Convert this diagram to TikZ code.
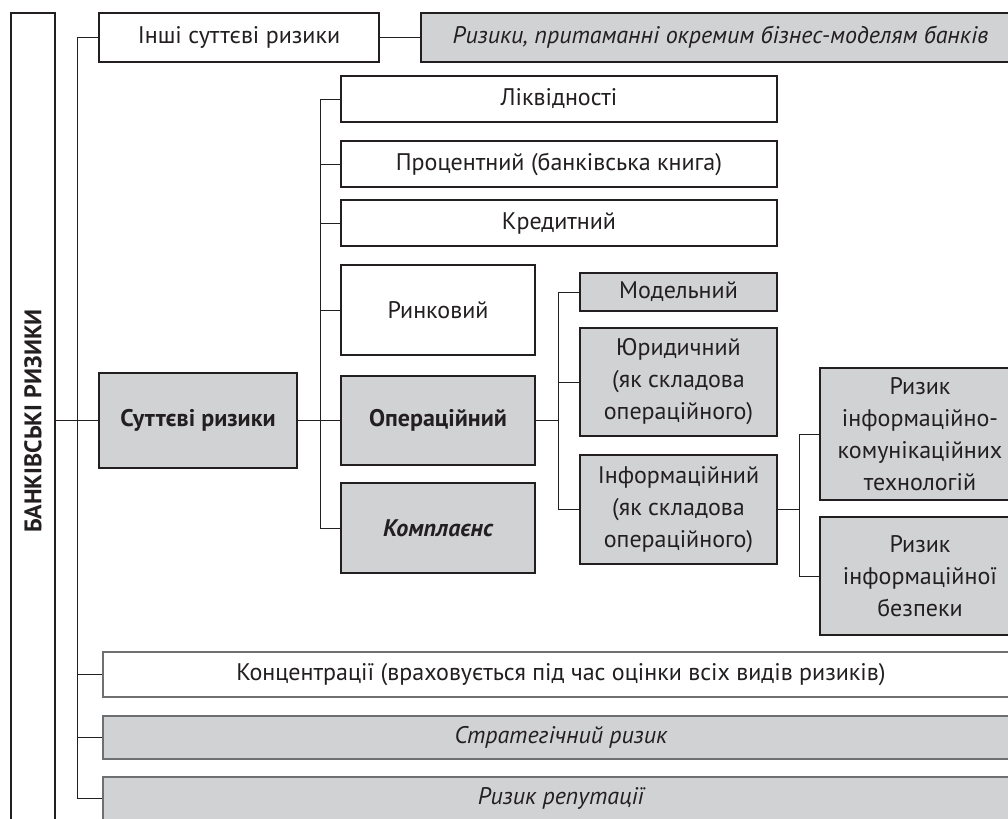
\documentclass[tikz,border=0pt]{standalone}
\usepackage{fontspec}
\setmainfont{PT Sans}
\usepackage{tikz}
\usetikzlibrary{positioning, calc}
\definecolor{riskgray}{RGB}{209,210,212}
\definecolor{inkgray}{RGB}{35,31,32}
\definecolor{edgegray}{RGB}{110,111,113}
\tikzstyle{block} = [rectangle, draw=inkgray, line width=1pt, fill=white, align=center, inner sep=1mm, text=inkgray, font=\fontsize{12}{16}\selectfont]
\tikzstyle{gblock} = [block, fill=riskgray]
\tikzstyle{band} = [block, draw=edgegray, minimum width=458pt]
\tikzstyle{link} = [line width=0.5pt, draw=inkgray]

\begin{document}
\begin{tikzpicture}[x=0.5pt, y=-0.5pt]
  \useasboundingbox (0,0) rectangle (1008,819);
  \clip (0,0) rectangle (1008,819);

  \node[block, minimum width=22pt, minimum height=408pt] (bank) at (33,421) {\rotatebox{90}{\bfseries БАНКІВСЬКІ РИЗИКИ}};
  \node[block, minimum width=140pt, minimum height=24.5pt] (other) at (239,37.5) {Інші суттєві ризики};
  \node[gblock, minimum width=299.5pt, minimum height=24.5pt] (bizmod) at (720.5,37.5) {\itshape Ризики, притаманні окремим бізнес-моделям банків};
  \node[gblock, minimum width=99pt, minimum height=47.5pt] (sut) at (198,420.5) {\bfseries Суттєві ризики};

  % суттєві ризики
  \node[block, minimum width=218pt, minimum height=23pt] (liq) at (559,99) {Ліквідності};
  \node[block, minimum width=218pt, minimum height=23pt] (int) at (559,164) {Процентний (банківська книга)};
  \node[block, minimum width=218pt, minimum height=23pt] (cred) at (559,223) {Кредитний};
  \node[block, minimum width=97pt, minimum height=45pt] (mkt) at (438,310) {Ринковий};
  \node[gblock, minimum width=97pt, minimum height=44.5pt] (oper) at (438,420.5) {\bfseries Операційний};
  \node[gblock, minimum width=97pt, minimum height=45pt] (compl) at (438,528) {\bfseries\itshape Комплаєнс};

  % операційний
  \node[gblock, minimum width=98.5pt, minimum height=19pt] (model) at (678.5,292) {Модельний};
  \node[gblock, minimum width=98.5pt, minimum height=54pt] (legal) at (678.5,382) {Юридичний\\(як складова\\операційного)};
  \node[gblock, minimum width=98.5pt, minimum height=54.5pt] (info) at (678.5,509.5) {Інформаційний\\(як складова\\операційного)};
  \node[gblock, minimum width=100pt, minimum height=66pt] (ict) at (920,434) {Ризик\\інформаційно-\\комунікаційних\\технологій};
  \node[gblock, minimum width=100pt, minimum height=59pt] (sec) at (920,576) {Ризик\\інформаційної\\безпеки};

  % нижні смуги
  \node[band, minimum height=22.5pt] (conc) at (561,674.5) {Концентрації (враховується під час оцінки всіх видів ризиків)};
  \node[band, fill=riskgray, minimum height=21.5pt] (strat) at (561,737.5) {\itshape Стратегічний ризик};
  \node[band, fill=riskgray, minimum height=21.5pt] (rep) at (561,798.5) {\itshape Ризик репутації};

  \coordinate (ta) at (77,0);
  \coordinate (tb) at (320,0);
  \coordinate (tc) at (558,0);
  \coordinate (td) at (799,0);

  \draw[link] (sut.west -| bank.east) -- (sut.west);
  \draw[link] (other.west) -- (other.west -| ta) -- (rep.west -| ta) -- (rep.west);
  \foreach \n in {conc, strat}
    \draw[link] (\n.west) -- (\n.west -| ta);
  \draw[link] (other.east) -- (bizmod.west);

  \draw[link] (sut.east) -- (oper.west);
  \draw[link] (liq.west) -- (liq.west -| tb) -- (compl.west -| tb) -- (compl.west);
  \foreach \n in {int, cred, mkt}
    \draw[link] (\n.west) -- (\n.west -| tb);

  \draw[link] (oper.east) -- (oper.east -| tc);
  \draw[link] (model.west) -- (model.west -| tc) -- (info.west -| tc) -- (info.west);
  \draw[link] (legal.west) -- (legal.west -| tc);

  \draw[link] (info.east) -- (info.east -| td);
  \draw[link] (ict.west) -- (ict.west -| td) -- (sec.west -| td) -- (sec.west);
\end{tikzpicture}
\end{document}
